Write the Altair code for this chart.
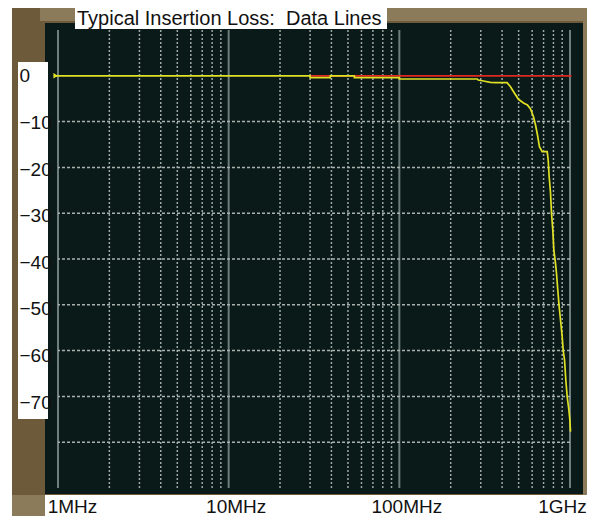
import altair as alt
import pandas as pd

# ---------------- data ----------------
title_text = "Typical Insertion Loss:\u00a0 Data Lines"

# yellow trace (frequency in MHz, insertion loss in dB)
yellow_freq = [0.96, 30, 30, 39.4, 39.4, 54.5, 54.5, 100, 100, 286, 290, 311, 342, 366,
               428, 448, 467, 499, 534, 563, 587, 611, 628, 645, 662, 687, 735, 745,
               755, 769, 779, 793, 804, 822, 833, 848, 864, 880, 900, 912, 929, 945,
               963, 985, 998, 1007]
yellow_db = [0, 0, -0.4, -0.4, 0, 0, -0.4, -0.4, -0.7, -0.7, -0.92, -1.14, -1.42, -1.5,
             -1.5, -2.38, -3.47, -5.13, -5.94, -6.38, -7.25, -8.93, -10.74, -12.93, -15.48,
             -16.57, -16.57, -18.38, -22.03, -25.59, -29.96, -33.67, -38.03, -40.87,
             -43.06, -46.77, -50.41, -53.32, -56.97, -59.87, -62.05, -66.42, -70.07,
             -72.97, -75.15, -77.7]

# red reference trace
red_freq = [30, 1020]
red_db = [0, 0]

# start marker
marker_freq = [0.97]
marker_db = [0]

x_tick_values = [1, 10, 100, 1000]
x_tick_labels = ["1MHz", "10MHz", "100MHz", "1GHz"]
y_tick_values = [0, -10, -20, -30, -40, -50, -60, -70]
major_grid = [1, 10, 100, 1000]
minor_grid = [2, 3, 4, 5, 6, 7, 8, 9, 20, 30, 40, 50, 60, 70, 80, 90,
              200, 300, 400, 500, 600, 700, 800, 900]
h_grid = [-10, -20, -30, -40, -50, -60, -70, -80]

x_domain = [1, 1000]
y_domain = [-90, 10]

# ---------------- styling ----------------
W, H = 512, 458
FONT = "Liberation Sans"
BROWN_DARK = "#6d5a3a"
BROWN_LIGHT = "#8b7b5a"
PLOT_BG = "#0a1a18"
YELLOW = "#e0e024"
RED = "#de2a20"

xs = alt.Scale(type="log", domain=x_domain, nice=False)
ys = alt.Scale(domain=y_domain, nice=False, zero=False)

label_expr = ""
for v, t in zip(x_tick_values, x_tick_labels):
    label_expr += f"datum.value == {v} ? '{t}' : "
label_expr += "''"

x_axis = alt.Axis(values=x_tick_values, labelExpr=label_expr, grid=False, domain=False,
                  ticks=False, tickSize=0, title=None, labelFont=FONT, labelFontSize=19,
                  labelColor="#111111", labelPadding=24, labelBaseline="alphabetic",
                  labelAlign="center", labelFlush=False, labelOverlap=False, labelBound=False,
                  labelOffset={"expr": "datum.value == 1 ? 14 : (datum.value == 1000 ? -8 : 7)"},
                  zindex=2)
y_axis = alt.Axis(values=y_tick_values, grid=False, domain=False, ticks=False, tickSize=0,
                  title=None, labelFont=FONT, labelFontSize=19, labelColor="#111111",
                  labelPadding=39, labelAlign="left", labelBaseline="middle",
                  labelFlush=False, labelOverlap=False, labelBound=False,
                  labelOffset={"expr": "-datum.value / 12"}, zindex=2)


def X(field):
    return alt.X(field, scale=xs, axis=x_axis)


def Y(field):
    return alt.Y(field, scale=ys, axis=y_axis)


one = pd.DataFrame({"a": [0]})


def rect(x, x2, y, y2, color):
    return alt.Chart(one).mark_rect(color=color, strokeWidth=0).encode(
        x=alt.value(x), x2=alt.value(x2), y=alt.value(y), y2=alt.value(y2))


frame_outer = rect(-46, 529, -30, 465, BROWN_DARK)
top_light = rect(-18, 529, -30, -9, BROWN_LIGHT)
right_light = rect(525, 529, -30, 465, BROWN_LIGHT)
bl_light = rect(-46, -13, 465, 486, BROWN_LIGHT)
plot_bg = rect(-13, 525, -7, 464, PLOT_BG)
label_gap = rect(-40, -10, 32, 389, "white")
title_box = rect(17, 329, -30, -1, "white")
title = alt.Chart(one).mark_text(text=title_text, align="left", baseline="alphabetic",
                                 font=FONT, fontSize=20, color="#111111").encode(
    x=alt.value(19), y=alt.value(-5))

minor_v = alt.Chart(pd.DataFrame({"f": minor_grid})).mark_rule(
    color="#9ea8a6", strokeWidth=1.5, strokeDash=[2, 2]).encode(x=X("f:Q"))
major_v = alt.Chart(pd.DataFrame({"f": major_grid})).mark_rule(
    color="#6e7e7c", strokeWidth=2).encode(x=X("f:Q"))
h_lines = alt.Chart(pd.DataFrame({"d": h_grid})).mark_rule(
    color="#aab2b0", strokeWidth=1.5, strokeDash=[3, 2]).encode(y=Y("d:Q"))

red_df = pd.DataFrame({"f": red_freq, "db": red_db})
red_line = alt.Chart(red_df).mark_line(color=RED, strokeWidth=1.8).encode(
    x=X("f:Q"), y=Y("db:Q"))

yel_df = pd.DataFrame({"f": yellow_freq, "db": yellow_db, "i": list(range(len(yellow_freq)))})
yel_line = alt.Chart(yel_df).mark_line(color=YELLOW, strokeWidth=1.7, clip=False).encode(
    x=X("f:Q"), y=Y("db:Q"), order="i:Q")

mk_df = pd.DataFrame({"f": marker_freq, "db": marker_db})
marker = alt.Chart(mk_df).mark_point(shape="triangle-right", filled=True, size=30,
                                     color=YELLOW, opacity=1).encode(
    x=X("f:Q"), y=Y("db:Q"))

chart = alt.layer(
    frame_outer, top_light, right_light, bl_light, plot_bg, label_gap, title_box, title,
    minor_v, major_v, h_lines, red_line, yel_line, marker
).properties(
    width=W, height=H,
    padding={"left": 50, "top": 22, "right": 17, "bottom": 28},
    autosize=alt.AutoSizeParams(type="none"),
    background="white",
).configure_view(stroke=None)

chart.save("out.html", embed_options={"renderer": "svg", "actions": False})
